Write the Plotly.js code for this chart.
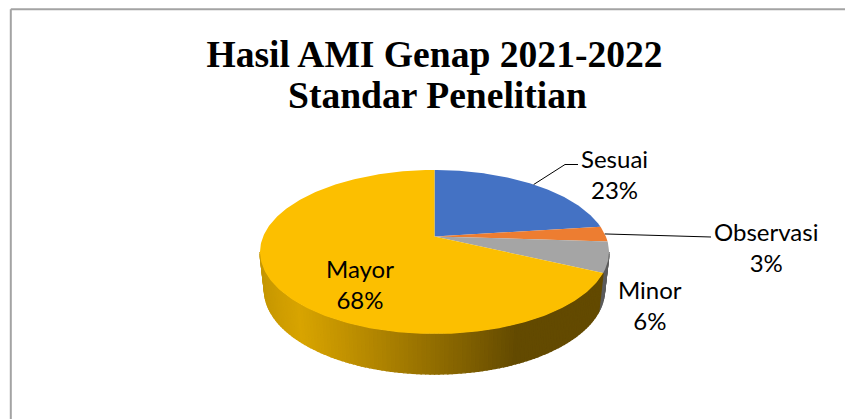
<!DOCTYPE html>
<html>
<head>
<meta charset="utf-8">
<script src="https://cdn.plot.ly/plotly-3.0.1.min.js"></script>
<style>html,body{margin:0;padding:0;background:#fff}#chart{width:845px;height:419px}</style>
</head>
<body>
<div id="chart"></div>
<script>
// Data
const categories = ['Sesuai', 'Observasi', 'Minor', 'Mayor'];
const shares = [23, 3, 6, 68];
const percentLabels = ['23%', '3%', '6%', '68%'];
const titleLines = ['Hasil AMI Genap 2021-2022', 'Standar Penelitian'];

// Styles
const topColors = ['#4472C4', '#ED7D31', '#A5A5A5', '#FCBF00'];
const sideStops = [[262, [198,151,0]], [300, [216,164,0]], [340, [196,148,0]], [407, [160,120,0]], [473, [124,93,0]], [515, [99,74,0]], [610, [99,74,0]]];
const grayEdge = '#5C5C5C';

// Projection of the tilted disc
const rimTop = {cx: 434.5, cy: 252, rx: 174.5, ry: 82};
const rimBase = {cx: 434.5, cy: 290, rx: 170, ry: 84};
const tilt = 0.19;

function project(deg) {            // clockwise angle from 12 o'clock -> unit rim coordinates
  const a = deg * Math.PI / 180, X = Math.sin(a), Y = Math.cos(a), d = 1 + tilt * Y;
  return [X * Math.sqrt(1 - tilt * tilt) / d, (Y + tilt) / d];
}
function rimPoint(r, u) { return [r.cx + r.rx * u[0], r.cy - r.ry * u[1]]; }
function sideColor(x) {
  for (let i = 1; i < sideStops.length; i++) {
    const [x1, c1] = sideStops[i], [x0, c0] = sideStops[i - 1];
    if (x <= x1) {
      const t = Math.max(0, (x - x0) / (x1 - x0));
      return 'rgb(' + c0.map((c, k) => Math.round(c + (c1[k] - c) * t)).join(',') + ')';
    }
  }
  return 'rgb(99,74,0)';
}
function poly(xs, ys, color, lw) {
  return {type: 'scatter', mode: 'lines', x: xs, y: ys, fill: 'toself', fillcolor: color,
    line: {color: color, width: lw || 0}, hoverinfo: 'skip', showlegend: false};
}

const total = shares.reduce((a, b) => a + b, 0);
const cumulative = [0];
shares.forEach(v => cumulative.push(cumulative[cumulative.length - 1] + v / total * 360));
const apex = rimPoint(rimTop, [0, tilt]);

const traces = [];

// Side wall: thin strips from the right-hand extreme round the front to the left-hand extreme
const grayEnd = project(cumulative[3]);
const grayEndParam = Math.atan2(grayEnd[0], grayEnd[1]) * 180 / Math.PI;
const stripStep = 1.5;
for (let p = 90; p < 270; p += stripStep) {
  const a0 = p * Math.PI / 180, a1 = (p + stripStep) * Math.PI / 180;
  const u0 = [Math.sin(a0), Math.cos(a0)], u1 = [Math.sin(a1), Math.cos(a1)];
  const t0 = rimPoint(rimTop, u0), t1 = rimPoint(rimTop, u1), b0 = rimPoint(rimBase, u0), b1 = rimPoint(rimBase, u1);
  const col = p < grayEndParam ? grayEdge : sideColor((t0[0] + t1[0] + b0[0] + b1[0]) / 4);
  traces.push(poly([t0[0], t1[0], b1[0], b0[0], t0[0]], [t0[1], t1[1], b1[1], b0[1], t0[1]], col, 1.4));
}

// Top face slices
shares.forEach((v, i) => {
  const xs = [apex[0]], ys = [apex[1]];
  const n = Math.max(4, Math.round(v * 4));
  for (let k = 0; k <= n; k++) {
    const q = rimPoint(rimTop, project(cumulative[i] + (cumulative[i + 1] - cumulative[i]) * k / n));
    xs.push(q[0]); ys.push(q[1]);
  }
  xs.push(apex[0]); ys.push(apex[1]);
  traces.push(poly(xs, ys, topColors[i], 0));
});

// Leader lines start at the rim, at each slice's middle angle
function leader(i, bendX, bendY, endX) {
  const s = rimPoint(rimTop, project((cumulative[i] + cumulative[i + 1]) / 2));
  traces.push({type: 'scatter', mode: 'lines', x: [s[0], bendX, endX], y: [s[1], bendY, bendY],
    line: {color: '#000', width: 1}, hoverinfo: 'skip', showlegend: false});
}
leader(0, 565, 164.5, 578);
leader(1, 693, 237, 711);

const labelPos = [[614, 173.5], [765.5, 247], [650, 305], [360, 283.5]];
const annotations = categories.map((c, i) => ({
  x: labelPos[i][0], y: labelPos[i][1], xref: 'x', yref: 'y', showarrow: false,
  text: c + '<br>' + percentLabels[i], xanchor: 'center', yanchor: 'middle', align: 'center',
  font: {family: 'Lato, Carlito, sans-serif', size: 24, color: '#000'}
}));
annotations.push({
  x: 437, y: 95, xref: 'x', yref: 'y', showarrow: false, xanchor: 'center', yanchor: 'middle',
  text: '<b>' + titleLines[1] + '</b>',
  font: {family: '"Liberation Serif", serif', size: 37.6, color: '#000'}
});

function edge(x0, y0, x1, y1) {
  return {type: 'line', xref: 'x', yref: 'y', x0, y0, x1, y1, line: {color: '#A3A3A3', width: 2}, layer: 'below'};
}

const layout = {
  width: 845, height: 419,
  margin: {l: 0, r: 0, t: 0, b: 0},
  paper_bgcolor: '#fff', plot_bgcolor: '#fff',
  showlegend: false,
  title: {
    text: '<b>' + titleLines[0] + '</b>',
    x: 434.5 / 845, xanchor: 'center', y: 1 - 54 / 419, yanchor: 'middle',
    font: {family: '"Liberation Serif", serif', size: 37.6, color: '#000'}
  },
  xaxis: {range: [0, 845], visible: false, fixedrange: true},
  yaxis: {range: [419, 0], visible: false, fixedrange: true},
  shapes: [edge(10.8, 9.2, 845, 9.2), edge(10.8, 9.2, 10.8, 419)],
  annotations: annotations
};
Plotly.newPlot('chart', traces, layout, {displayModeBar: false, staticPlot: true});
</script>
</body>
</html>
